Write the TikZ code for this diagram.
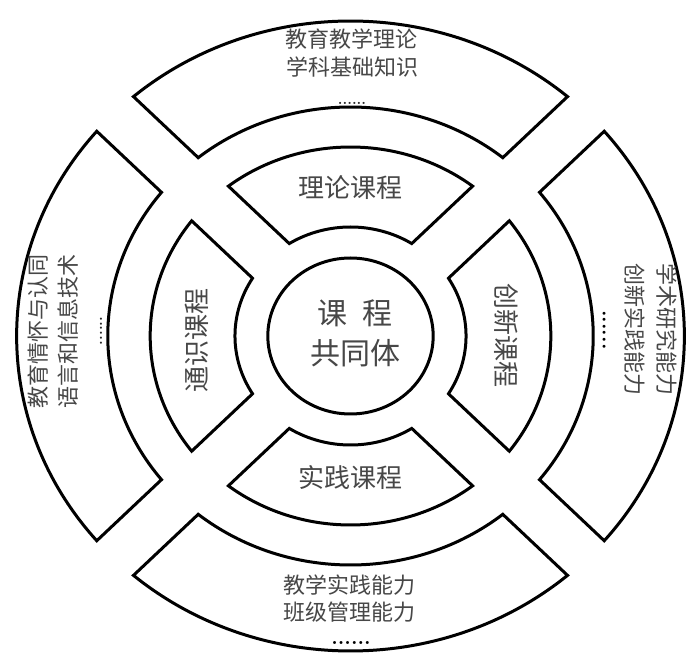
\documentclass[tikz,border=0pt]{standalone}
\usepackage{fontspec}
\newfontfamily\cjk{Noto Sans CJK SC}
\newcommand\ringseg[3]{% #1 mid angle, #2 inner radius, #3 outer radius
  \pgfmathsetmacro\segAo{45-asin(24.5/#3)}%
  \pgfmathsetmacro\segAi{45-asin(24.5/#2)}%
  \draw[seg] (#1-\segAo:#3) arc[start angle=#1-\segAo, end angle=#1+\segAo, radius=#3]
     -- (#1+\segAi:#2) arc[start angle=#1+\segAi, end angle=#1-\segAi, radius=#2] -- cycle;
}
\begin{document}
\begin{tikzpicture}[x=1pt,y=1pt,
  seg/.style={draw=black,line width=3pt,line join=miter,fill=white},
  outertxt/.style={font=\cjk\fontsize{22}{22}\selectfont,text=black!72,inner sep=0pt},
  innertxt/.style={font=\cjk\fontsize{26}{26}\selectfont,text=black!72,inner sep=0pt},
  centertxt/.style={font=\cjk\fontsize{30}{30}\selectfont,text=black!72,inner sep=0pt},
  dotsthin/.style={font=\bfseries\fontsize{15}{15}\selectfont,text=black!85,inner sep=0pt},
  dotsbold/.style={font=\bfseries\fontsize{21}{21}\selectfont,text=black,inner sep=0pt}]
\useasboundingbox (0,0) rectangle (700,658);
\fill[white] (0,0) rectangle (700,658);
\begin{scope}[shift={(350.5,322)},xscale=1.06]
  % outer ring
  \ringseg{90}{229}{315}
  \ringseg{0}{229}{315}
  \ringseg{270}{229}{315}
  \ringseg{180}{229}{315}
  % inner ring
  \ringseg{90}{109}{189}
  \ringseg{0}{109}{189}
  \ringseg{270}{109}{189}
  \ringseg{180}{109}{189}
  % centre
  \draw[seg] (0,0) circle[radius=78];
\end{scope}
% centre text
\node[centertxt] (c1) at (355,345) {课\hspace{16pt}程};
\node[centertxt] (c2) at (355,305) {共同体};
% inner ring texts
\node[innertxt] (itop) at (350,470) {理论课程};
\node[innertxt] (ibot) at (350,180) {实践课程};
\node[innertxt,rotate=90] (ileft) at (197,317.5) {通识课程};
\node[innertxt,rotate=-90] (iright) at (506.5,322.5) {创新课程};
% outer top
\node[outertxt] (ot1) at (351.5,619) {教育教学理论};
\node[outertxt] (ot2) at (352,591) {学科基础知识};
\node[dotsthin] (otd) at (352,555) {......};
% outer bottom
\node[outertxt] (ob1) at (349,73) {教学实践能力};
\node[outertxt] (ob2) at (349,46) {班级管理能力};
\node[dotsbold] (obd) at (351,15) {......};
% outer left
\node[outertxt,rotate=90] (ol1) at (38,326) {教育情怀与认同};
\node[outertxt,rotate=90] (ol2) at (68,326) {语言和信息技术};
\node[dotsthin,rotate=90] (old) at (101,327) {......};
% outer right
\node[outertxt,rotate=-90] (or1) at (667,328) {学术研究能力};
\node[outertxt,rotate=-90] (or2) at (635,328) {创新实践能力};
\node[dotsbold,rotate=-90] (ord) at (604,328) {......};
\end{tikzpicture}
\end{document}
